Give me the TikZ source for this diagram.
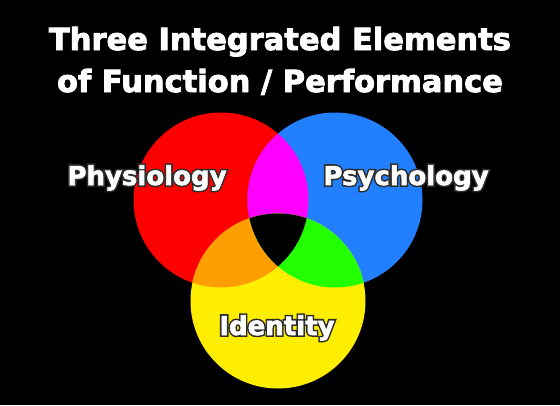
\documentclass[tikz,border=0pt]{standalone}
\usepackage{fontspec}
\setmainfont{DejaVu Sans}
\newfontfamily\heavy[FakeBold=2.8]{DejaVu Sans}
\newfontfamily\heavylab[FakeBold=2.2]{DejaVu Sans}
\newfontfamily\heavyout[FakeBold=14]{DejaVu Sans}
\definecolor{cred}{RGB}{255,0,0}
\definecolor{cblue}{RGB}{34,128,255}
\definecolor{cyellow}{RGB}{255,238,0}
\definecolor{cmag}{RGB}{255,0,255}
\definecolor{corange}{RGB}{255,158,0}
\definecolor{cgreen}{RGB}{34,255,0}
\definecolor{outl}{RGB}{45,45,45}
\tikzset{
  titletext/.style={font=\heavy\bfseries\fontsize{30.5}{36}\selectfont, text=white, anchor=base, inner sep=0pt},
  lab/.style={font=\heavylab\bfseries\fontsize{26}{30}\selectfont, text=white, anchor=base, inner sep=0pt},
  labout/.style={font=\heavyout\bfseries\fontsize{26}{30}\selectfont, text=outl, anchor=base, inner sep=0pt},
}
\begin{document}
\begin{tikzpicture}[x=1pt,y=-1pt]
  \useasboundingbox (0,0) rectangle (560,405);
  \fill[black] (0,0) rectangle (560,405);
  % circles
  \coordinate (R) at (221,200);
  \coordinate (B) at (335,200);
  \coordinate (Y) at (278,301);
  \def\rad{87.5pt}
  \fill[cred] (R) circle[radius=\rad];
  \fill[cblue] (B) circle[radius=\rad];
  \fill[cyellow] (Y) circle[radius=\rad];
  \begin{scope}
    \clip (R) circle[radius=\rad];
    \fill[cmag] (B) circle[radius=\rad];
    \fill[corange] (Y) circle[radius=\rad];
  \end{scope}
  \begin{scope}
    \clip (B) circle[radius=\rad];
    \fill[cgreen] (Y) circle[radius=\rad];
  \end{scope}
  \begin{scope}
    \clip (R) circle[radius=\rad];
    \clip (B) circle[radius=\rad];
    \fill[black] (Y) circle[radius=\rad];
  \end{scope}
  % title
  \node[titletext] (t1) at (280,50) {Three Integrated Elements};
  \node[titletext] (t2) at (280,92) {of Function / Performance};
  % labels
  \node[labout] (physo) at (147,185) {Physiology};
  \node[lab] (phys) at (physo.base) {Physiology};
  \node[labout] (psycho) at (406,185) {Psychology};
  \node[lab] (psych) at (psycho.base) {Psychology};
  \node[labout] (idento) at (277,335) {Identity};
  \node[lab] (ident) at (idento.base) {Identity};
\end{tikzpicture}
\end{document}
